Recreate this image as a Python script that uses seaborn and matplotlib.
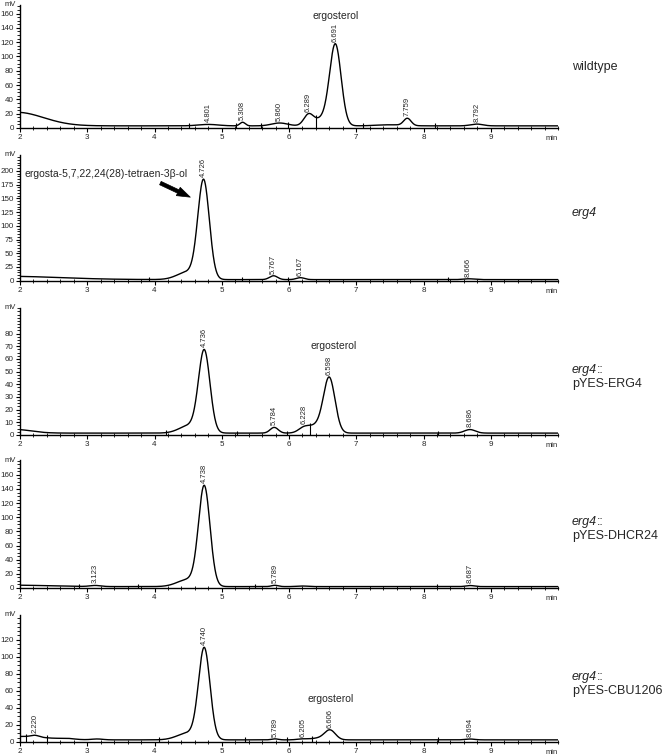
import matplotlib
matplotlib.use("Agg")
import matplotlib.pyplot as plt
from matplotlib.ticker import MultipleLocator, AutoMinorLocator
import numpy as np
import pandas as pd
import seaborn as sns

# ── data ─────────────────────────────────────────────────────────────────
# each trace = constant baseline + peak components (centre min, height mV, width min)
strains = ["wildtype", "erg4", "erg4::\npYES-ERG4", "erg4::\npYES-DHCR24", "erg4::\npYES-CBU1206"]

base_level = [3.0, 2.0, 1.5, 2.0, 2.5]

comp_centre = [
    [1.95, 4.80, 5.31, 5.86, 6.29, 6.50, 6.69, 7.50, 7.76, 8.79],
    [1.80, 4.50, 4.73, 5.77, 6.17, 8.67],
    [1.90, 4.52, 4.74, 5.78, 6.22, 6.42, 6.60, 8.69],
    [1.90, 3.12, 4.50, 4.74, 5.79, 6.20, 8.69],
    [2.00, 2.22, 2.70, 3.15, 4.50, 4.74, 5.79, 6.20, 6.45, 6.61, 8.69],
]
comp_height = [
    [19, 2, 5, 4, 15, 10, 112, 1.5, 10, 2.5],
    [6, 14, 178, 7, 3.5, 1.5],
    [3, 6, 64, 4.5, 3.5, 6, 42, 2.8],
    [2, 1.5, 10, 140, 1.8, 0.8, 1.5],
    [4, 2, 1, 1, 8, 106, 1.2, 1.0, 2, 11, 1.0],
]
comp_width = [
    [0.40, 0.15, 0.04, 0.12, 0.07, 0.12, 0.085, 0.20, 0.055, 0.09],
    [0.80, 0.16, 0.085, 0.06, 0.06, 0.08],
    [0.25, 0.15, 0.085, 0.06, 0.08, 0.13, 0.085, 0.08],
    [0.50, 0.08, 0.16, 0.085, 0.05, 0.08, 0.06],
    [0.40, 0.06, 0.10, 0.08, 0.16, 0.085, 0.05, 0.08, 0.12, 0.08, 0.07],
]

# retention time labels printed above peaks
peak_labels = [
    ["4.801", "5.308", "5.860", "6.289", "6.691", "7.759", "8.792"],
    ["4.726", "5.767", "6.167", "8.666"],
    ["4.736", "5.784", "6.228", "6.598", "8.686"],
    ["3.123", "4.738", "5.789", "8.687"],
    ["2.220", "4.740", "5.789", "6.205", "6.606", "8.694"],
]

# integration markers (drop lines)
marks = [
    [4.51, 5.21, 5.58, 5.98, 6.40, 7.10, 8.17],
    [3.92, 5.30, 5.98, 8.37],
    [4.17, 5.23, 5.97, 6.31, 8.21],
    [2.88, 3.75, 5.49, 8.20],
    [2.09, 2.40, 4.07, 5.34, 5.97, 6.34, 8.21],
]

y_top = [172, 229, 100.5, 181, 149]
y_step = [20, 25, 10, 20, 20]
y_maxlabel = [160, 200, 80, 160, 120]

ergosterol_pos = [(6.70, 156), None, (6.66, 70), None, (6.62, 51)]

# ── figure ────────────────────────────────────────────────────────────────
sns.set_theme(style="ticks")
plt.rcParams["font.family"] = ["Liberation Sans", "DejaVu Sans"]

W, H = 664, 756
fig = plt.figure(figsize=(W / 100, H / 100), dpi=100)

# axes boxes in pixels: (bottom_px, top_px)
boxes = [(128, 5), (280.7, 155), (435, 307.7), (588, 460), (742, 615)]
label_y = [67, 213, 377, 529, 684]

t = np.linspace(2, 10, 2401)

for i, strain in enumerate(strains):
    bot, top = boxes[i]
    ax = fig.add_axes([20 / W, 1 - bot / H, 538 / W, (bot - top) / H])

    signal = np.full_like(t, base_level[i])
    for c, h, w in zip(comp_centre[i], comp_height[i], comp_width[i]):
        signal += h * np.exp(-0.5 * ((t - c) / w) ** 2)

    df = pd.DataFrame({"time": t, "mV": signal})
    sns.lineplot(data=df, x="time", y="mV", color="black", lw=1.0, ax=ax)

    ax.set_xlim(2, 10)
    ax.set_ylim(0, y_top[i])
    px_per_mv = (bot - top) / y_top[i]

    # drop lines for integration limits
    mk = np.array(marks[i])
    mk_y = np.interp(mk, t, signal)
    ax.vlines(mk, 0, mk_y + 2.5 / px_per_mv, color="black", lw=0.8)

    # peak retention time labels
    for lab in peak_labels[i]:
        rt = float(lab)
        ax.annotate(lab, xy=(rt, np.interp(rt, t, signal)), xytext=(0, 1.5),
                    textcoords="offset points", rotation=90, ha="center",
                    va="bottom", fontsize=5.5)

    if ergosterol_pos[i] is not None:
        ax.text(*ergosterol_pos[i], "ergosterol", ha="center", va="center", fontsize=7.5)

    # axes styling
    sns.despine(ax=ax)
    for s in ["left", "bottom"]:
        ax.spines[s].set_linewidth(1.0)
        ax.spines[s].set_color("black")
    ax.xaxis.set_minor_locator(MultipleLocator(0.2))
    ax.set_xticks(range(2, 10))
    ax.yaxis.set_minor_locator(AutoMinorLocator(4 if y_step[i] != 25 else 5))
    ax.set_yticks(np.arange(0, y_maxlabel[i] + 1, y_step[i]))
    ax.set_ylim(0, y_top[i])
    ax.tick_params(axis="both", which="major", labelsize=5.8, length=3, width=0.8,
                   pad=1.5, color="black")
    ax.tick_params(axis="both", which="minor", length=2, width=0.6, color="black")
    ax.tick_params(axis="x", which="minor", direction="inout", length=3)
    ax.set_xlabel("")
    ax.set_ylabel("")
    ax.grid(False)
    ax.text(-0.008, 1.0, "mV", transform=ax.transAxes, ha="right", va="center", fontsize=5.5)
    ax.annotate("min", xy=(1.0, 0), xycoords="axes fraction", xytext=(0, -7.5),
                textcoords="offset points", ha="right", va="center", fontsize=5.5)

    if i == 1:
        ax.text(2.07, 194, "ergosta-5,7,22,24(28)-tetraen-3\u03b2-ol", ha="left",
                va="center", fontsize=7.5)
        ax.annotate("", xy=(4.57, 150), xytext=(4.05, 180),
                    arrowprops=dict(arrowstyle="simple,head_width=0.55,head_length=0.8,tail_width=0.22",
                                    fc="black", ec="black", lw=0.5))

    # strain labels on the right
    x_lab = 572 / W
    if "::" in strain:
        first, second = strain.split("\n")
        t1 = fig.text(x_lab, 1 - (label_y[i] - 7) / H, "erg4", style="italic",
                      fontsize=9, ha="left", va="center")
        ax.annotate("::", xy=(1.0, 0.5), xycoords=t1, ha="left", va="center", fontsize=9)
        fig.text(x_lab, 1 - (label_y[i] + 7) / H, second, fontsize=9, ha="left", va="center")
    elif strain == "erg4":
        fig.text(x_lab, 1 - label_y[i] / H, strain, style="italic", fontsize=9,
                 ha="left", va="center")
    else:
        fig.text(x_lab, 1 - label_y[i] / H, strain, fontsize=9, ha="left", va="center")

fig.savefig("out.png", dpi=100)
